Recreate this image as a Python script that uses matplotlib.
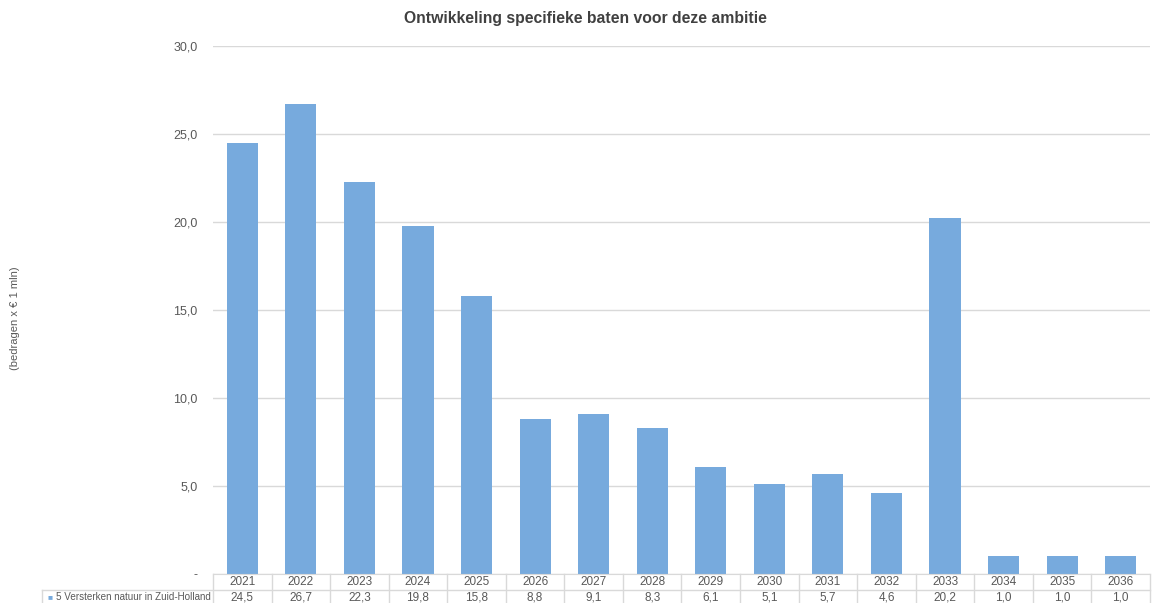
import matplotlib.pyplot as plt
import numpy as np
from matplotlib.transforms import blended_transform_factory

# jaarlijkse specifieke baten (x € 1 mln)
jaren = ['2021', '2022', '2023', '2024', '2025', '2026', '2027', '2028',
         '2029', '2030', '2031', '2032', '2033', '2034', '2035', '2036']
baten = [24.5, 26.7, 22.3, 19.8, 15.8, 8.8, 9.1, 8.3,
         6.1, 5.1, 5.7, 4.6, 20.2, 1.0, 1.0, 1.0]
reeks = '5 Versterken natuur in Zuid-Holland'

plt.rcParams['font.family'] = ['Liberation Sans', 'DejaVu Sans']
blauw = '#77aadd'
grijs = '#595959'
lijn = '#d9d9d9'

fig = plt.figure(figsize=(11.54, 6.03), dpi=100)
ax = fig.add_axes([0.1846, 0.0481, 0.8119, 0.8756])

xpos = np.arange(len(jaren))
ax.bar(xpos, baten, 0.53, color=blauw, zorder=2)
ax.set_xlim(-0.5, len(jaren) - 0.5)
ax.set_ylim(0, 30)

ticks = [0, 5, 10, 15, 20, 25, 30]
ax.set_yticks(ticks)
ax.set_yticklabels(['-' if t == 0 else f'{t:.1f}'.replace('.', ',') for t in ticks],
                   fontsize=9, color=grijs)
ax.tick_params(axis='y', length=0, pad=11)
ax.set_xticks([])
ax.yaxis.grid(True, color=lijn, linewidth=1)
ax.set_axisbelow(True)
for s in ['top', 'right', 'left']:
    ax.spines[s].set_visible(False)
ax.spines['bottom'].set_color(lijn)

fig.text(0.507, 0.970, 'Ontwikkeling specifieke baten voor deze ambitie',
         fontsize=11.3, fontweight='bold', color='#404040',
         ha='center', va='center')
fig.text(0.013, 0.473, '(bedragen x € 1 mln)', rotation=90, fontsize=8,
         color=grijs, ha='center', va='center')

# datatabel onder de grafiek
tr = blended_transform_factory(ax.transData, ax.transAxes)
px = 1 / 528  # een pixel in axes-fractie
for i, (j, v) in enumerate(zip(jaren, baten)):
    ax.text(i, -8.5 * px, j, transform=tr, ha='center', va='center',
            fontsize=8.5, color=grijs, clip_on=False)
    ax.text(i, -23.5 * px, f'{v:.1f}'.replace('.', ','), transform=tr,
            ha='center', va='center', fontsize=8.5, color=grijs, clip_on=False)
for b in np.arange(len(jaren) + 1) - 0.5:
    ax.plot([b, b], [0, -35 * px], transform=tr, color=lijn, lw=1,
            clip_on=False)

# rij met de reeksnaam
links = (42 - 213.0) / (1150 - 213.0) * len(jaren) - 0.5
ax.plot([links, len(jaren) - 0.5], [-16 * px, -16 * px], transform=tr,
        color=lijn, lw=1, clip_on=False)
ax.plot([links, links], [-16 * px, -35 * px], transform=tr, color=lijn, lw=1,
        clip_on=False)
ax.text(links + 0.09, -23.5 * px, '\u25a0', transform=tr, ha='left',
        va='center', fontsize=6, color=blauw, clip_on=False)
ax.text(-0.53, -23.5 * px, reeks, transform=tr, ha='right',
        va='center', fontsize=7.1, color=grijs, clip_on=False)

fig.savefig('out.png', dpi=100)
